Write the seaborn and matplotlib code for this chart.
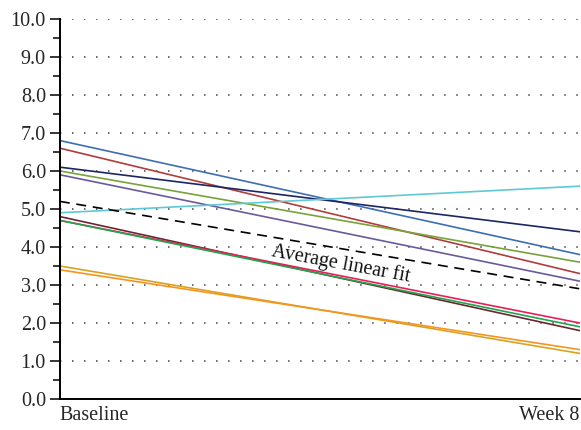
import matplotlib
matplotlib.use("Agg")
import matplotlib.pyplot as plt
from matplotlib.ticker import MultipleLocator
import numpy as np
import pandas as pd
import seaborn as sns

# Visit labels and per-subject scores
timepoints = ["Baseline", "Week 8"]
subjects = ["S01", "S02", "S03", "S04", "S05", "S06",
            "S07", "S08", "S09", "S10", "S11"]
baseline = [6.8, 6.6, 6.1, 6.0, 5.9, 4.9, 4.8, 4.7, 4.7, 3.5, 3.4]
week8 = [3.8, 3.3, 4.4, 3.6, 3.1, 5.6, 1.8, 2.0, 1.9, 1.2, 1.3]
colors = ["#3d6eb4", "#b23b3b", "#1c2566", "#78a23a", "#6a5a9c", "#5ec9d6",
          "#6a2630", "#ec1c5c", "#1fa64a", "#d9a222", "#f7941d"]

# Average linear fit endpoints
avg_fit = [5.2, 2.9]

df = pd.DataFrame({
    "subject": np.repeat(subjects, 2),
    "visit": np.tile([0, 1], len(subjects)),
    "score": np.ravel(np.column_stack([baseline, week8])),
})

sns.set_theme(style="white")
plt.rcParams["font.family"] = ["Liberation Serif", "DejaVu Serif"]

fig = plt.figure(figsize=(5.81, 4.30), dpi=100)
ax = fig.add_axes([0.103, 0.072, 0.895, 0.884])

sns.lineplot(data=df, x="visit", y="score", hue="subject",
             palette=colors, linewidth=1.2, legend=False, ax=ax,
             estimator=None, sort=False)
sns.lineplot(x=[0, 1], y=avg_fit, color="black", linewidth=1.2,
             ax=ax, linestyle=(0, (6, 4)))

ax.text(0.54, 3.55, "Average linear fit", rotation=-10.5,
        ha="center", va="center", fontsize=14.5, color="#111111")

ax.set_xlim(0, 1)
ax.set_ylim(0, 10)
ax.yaxis.set_minor_locator(MultipleLocator(0.5))
ax.set_yticks(np.arange(0, 11))
ax.set_yticklabels([f"{v:.1f}" for v in np.arange(0, 11)])
ax.set_xticks([0, 1])
ax.set_xticklabels(timepoints)
for lbl, ha in zip(ax.get_xticklabels(), ["left", "right"]):
    lbl.set_horizontalalignment(ha)

ax.tick_params(axis="y", which="major", direction="out", length=7,
               width=1.1, color="black", labelsize=14.5, pad=3, left=True)
ax.tick_params(axis="y", which="minor", direction="out", length=5,
               width=1.1, color="black", left=True)
ax.tick_params(axis="x", length=0, labelsize=14.5, pad=5)

for yv in range(1, 11):
    ax.axhline(yv, color="#555555", linewidth=1.3,
               linestyle=(0, (0.8, 5.85)), zorder=0)

for side in ["top", "right"]:
    ax.spines[side].set_visible(False)
for side in ["left", "bottom"]:
    ax.spines[side].set_color("black")
    ax.spines[side].set_linewidth(1.4)

ax.set_xlabel("")
ax.set_ylabel("")

fig.savefig("out.png", dpi=100)
